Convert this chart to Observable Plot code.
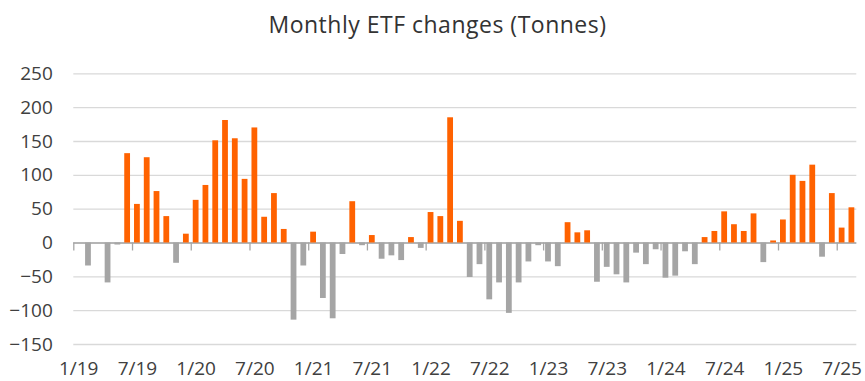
<!DOCTYPE html>
<html>
<head>
<meta charset="utf-8">
<script src="https://cdn.jsdelivr.net/npm/d3@7"></script>
<script src="https://cdn.jsdelivr.net/npm/@observablehq/plot@0.6"></script>
<style>
  body { margin: 0; background: #fff; }
  #title {
    width: 865px; height: 50px; box-sizing: border-box;
    padding: 9px 0 0 10px; text-align: center;
    font: 23px/30px "Open Sans", sans-serif; letter-spacing: 0.5px; color: #333;
  }
</style>
</head>
<body>
<div id="title">Monthly ETF changes (Tonnes)</div>
<div id="chart"></div>
<script>
// Month labels, Jan 2019 – Aug 2025
const months = [
  "1/19","2/19","3/19","4/19","5/19","6/19","7/19","8/19","9/19","10/19","11/19","12/19",
  "1/20","2/20","3/20","4/20","5/20","6/20","7/20","8/20","9/20","10/20","11/20","12/20",
  "1/21","2/21","3/21","4/21","5/21","6/21","7/21","8/21","9/21","10/21","11/21","12/21",
  "1/22","2/22","3/22","4/22","5/22","6/22","7/22","8/22","9/22","10/22","11/22","12/22",
  "1/23","2/23","3/23","4/23","5/23","6/23","7/23","8/23","9/23","10/23","11/23","12/23",
  "1/24","2/24","3/24","4/24","5/24","6/24","7/24","8/24","9/24","10/24","11/24","12/24",
  "1/25","2/25","3/25","4/25","5/25","6/25","7/25","8/25"
];

// Net monthly ETF flows, tonnes
const changes = [
  0, -34, 0, -59, -3, 132, 57, 126, 76, 39, -30, 13,
  63, 85, 151, 181, 154, 94, 170, 38, 73, 20, -114, -34,
  16, -82, -112, -17, 61, -4, 11, -24, -19, -26, 8, -8,
  45, 39, 185, 32, -51, -32, -84, -59, -104, -59, -28, -4,
  -28, -35, 30, 15, 18, -58, -36, -47, -59, -15, -32, -10,
  -52, -49, -13, -32, 8, 17, 46, 27, 17, 43, -29, 3,
  34, 100, 91, 115, -21, 73, 22, 52
];

const yTicks = [-150, -100, -50, 0, 50, 100, 150, 200, 250];
const xTickLabels = ["1/19", "7/19", "1/20", "7/20", "1/21", "7/21", "1/22", "7/22",
                     "1/23", "7/23", "1/24", "7/24", "1/25", "7/25"];

const inflowColor = "#ff6200";
const outflowColor = "#a5a5a5";

const rows = months.map((m, i) => ({month: m, index: i, value: changes[i]}));
// left edge of each labelled month, where the small axis ticks sit
const boundaries = xTickLabels.map(l => months.indexOf(l));

const chart = Plot.plot({
  width: 865,
  height: 331,
  marginTop: 23.3,
  marginBottom: 37,
  marginLeft: 73.3,
  marginRight: 8.7,
  style: {fontFamily: '"Open Sans", sans-serif', fontSize: "19px", color: "#404040", background: "#fff"},
  x: {domain: [0, months.length]},
  y: {domain: [-150, 250]},
  marks: [
    Plot.gridY(yTicks, {stroke: "#d9d9d9", strokeOpacity: 1, strokeWidth: 1.3}),
    Plot.axisY(yTicks, {tickSize: 0, tickPadding: 21, label: null}),
    Plot.axisX(boundaries.map(b => b + 0.5), {
      tickSize: 0, tickPadding: 17, label: null,
      tickFormat: v => months[Math.floor(v)]
    }),
    Plot.ruleY([0], {stroke: "#a6a6a6", strokeWidth: 1.5}),
    Plot.rect(rows, {
      x1: "index", x2: d => d.index + 1, y1: 0, y2: "value",
      fill: d => d.value >= 0 ? inflowColor : outflowColor,
      insetLeft: 2, insetRight: 2
    }),
    Plot.ruleX(boundaries, {x: d => d, y1: 0, y2: 0, insetBottom: -8, stroke: "#a6a6a6", strokeWidth: 1.3})
  ]
});
document.getElementById("chart").append(chart);
</script>
</body>
</html>
